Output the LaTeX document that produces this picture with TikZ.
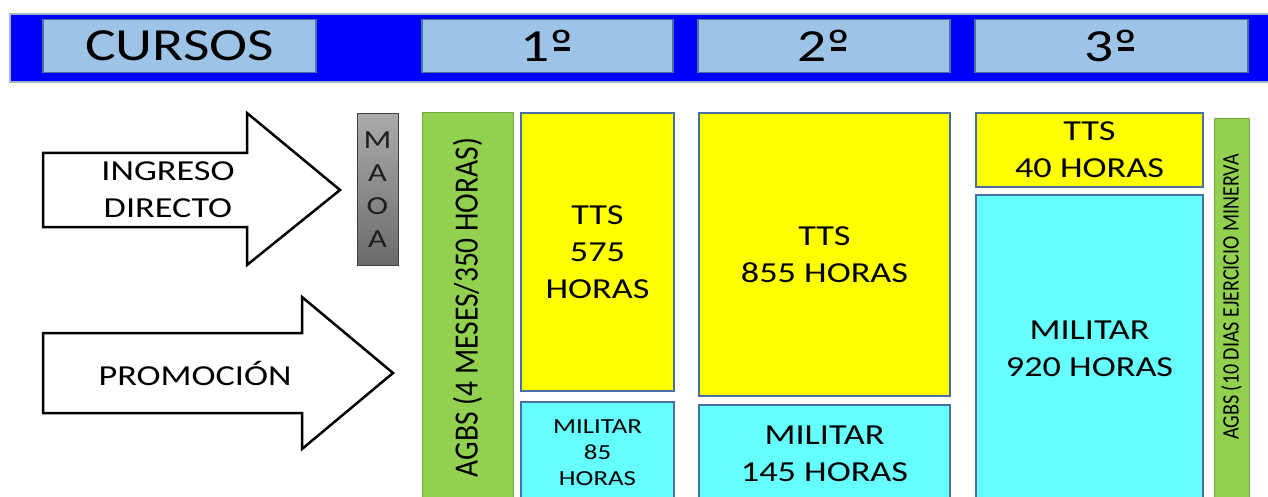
\documentclass[tikz,border=0pt]{standalone}
\usepackage{graphicx}
\usepackage{fontspec}
\setmainfont{Carlito}[FakeStretch=1.25]
\newfontfamily\rotfont{Carlito}
\usepackage{xcolor}
\definecolor{barblue}{RGB}{0, 0, 255}
\definecolor{barline}{RGB}{160, 182, 205}
\definecolor{headfill}{RGB}{157, 195, 230}
\definecolor{headline}{RGB}{70, 115, 160}
\definecolor{ttsyellow}{RGB}{255, 255, 0}
\definecolor{milcyan}{RGB}{102, 255, 255}
\definecolor{agbsgreen}{RGB}{146, 208, 80}
\definecolor{boxline}{RGB}{72, 112, 165}
% underlined ordinal sign, as in the header cells
\newcommand{\ordbar}{\ooalign{º\cr\hidewidth\rule[0.24em]{0.34em}{0.07em}\hidewidth\cr}}

\begin{document}
\begin{tikzpicture}[
    x=1pt, y=-1pt,
    cursohead/.style={draw=headline, fill=headfill, line width=1.5pt,
                      inner sep=0pt, minimum height=53pt,
                      font=\fontsize{46}{50}\selectfont},
    course/.style={draw=boxline, line width=2pt, inner sep=0pt,
                   align=center, font=\fontsize{29}{37}\selectfont},
    tts/.style={course, fill=ttsyellow},
    mil/.style={course, fill=milcyan},
    agbs/.style={draw=agbsgreen!80!black, fill=agbsgreen, line width=1pt,
                 inner sep=0pt, rotate=90},
    entry/.style={draw=black, fill=white, line width=2.5pt, line join=miter},
    entrytext/.style={font=\fontsize{29}{37}\selectfont, align=center},
  ]
    \useasboundingbox (0,0) rectangle (1268,497);

    % Header bar
    \node[draw=barline, fill=barblue, line width=1.5pt, inner sep=0pt,
          minimum width=1260pt, minimum height=68pt] (bar) at (640,48) {};
    \node[cursohead, minimum width=273pt] (cursos) at (179.5,46) {CURSOS};
    \node[cursohead, minimum width=251pt] (c1) at (547.5,46) {1\ordbar};
    \node[cursohead, minimum width=252pt] (c2) at (824,46) {2\ordbar};
    \node[cursohead, minimum width=273pt] (c3) at (1111.5,46) {3\ordbar};

    % Entry arrows
    \draw[entry] (43,153) -- (247,153) -- (247,113) -- (340,190)
      -- (247,265) -- (247,227) -- (43,227) -- cycle;
    \node[entrytext] (ingreso) at (168,190) {INGRESO\\DIRECTO};
    \draw[entry] (43,333) -- (302,333) -- (302,297) -- (393,373)
      -- (302,449) -- (302,413) -- (43,413) -- cycle;
    \node[entrytext] (promo) at (195,373) {PROMOCIÓN};

    % MAOA
    \node[draw=black!75, top color=black!33, bottom color=black!58,
          line width=1pt, inner sep=0pt, minimum width=41pt,
          minimum height=151pt, align=center, text=black!88,
          font=\fontsize{26}{33}\selectfont] (maoa) at (377.5,189.5)
      {M\\A\\O\\A};

    % 1st course
    \node[agbs, minimum width=389pt, minimum height=91pt,
          font=\rotfont\fontsize{29.5}{34}\selectfont] (agbs1) at (467.5,307.5)
      {\scalebox{1}[1.15]{AGBS (4 MESES/350 HORAS)}};
    \node[tts, minimum width=153pt, minimum height=278pt] (tts1) at (597.5,252)
      {TTS\\575\\HORAS};
    \node[mil, minimum width=153pt, minimum height=102pt,
          font=\fontsize{21.5}{26}\selectfont] (mil1) at (597.5,453)
      {MILITAR\\85\\HORAS};

    % 2nd course
    \node[tts, minimum width=251pt, minimum height=283pt] (tts2) at (824.5,254.5)
      {TTS\\855 HORAS};
    \node[mil, minimum width=251pt, minimum height=97pt] (mil2) at (824.5,453.5)
      {MILITAR\\145 HORAS};

    % 3rd course
    \node[tts, minimum width=227pt, minimum height=74pt] (tts3) at (1089.5,150)
      {TTS\\40 HORAS};
    \node[mil, minimum width=227pt, minimum height=308pt] (mil3) at (1089.5,349)
      {MILITAR\\920 HORAS};
    \node[agbs, minimum width=391pt, minimum height=35pt] (agbs3) at (1231.5,314.5) {};
    \node[rotate=90, inner sep=0pt, font=\rotfont\fontsize{20}{24}\selectfont]
      (agbs3txt) at (1231.5,297)
      {\scalebox{1}[1.18]{AGBS (10 DIAS EJERCICIO MINERVA}};
  \end{tikzpicture}
\end{document}
